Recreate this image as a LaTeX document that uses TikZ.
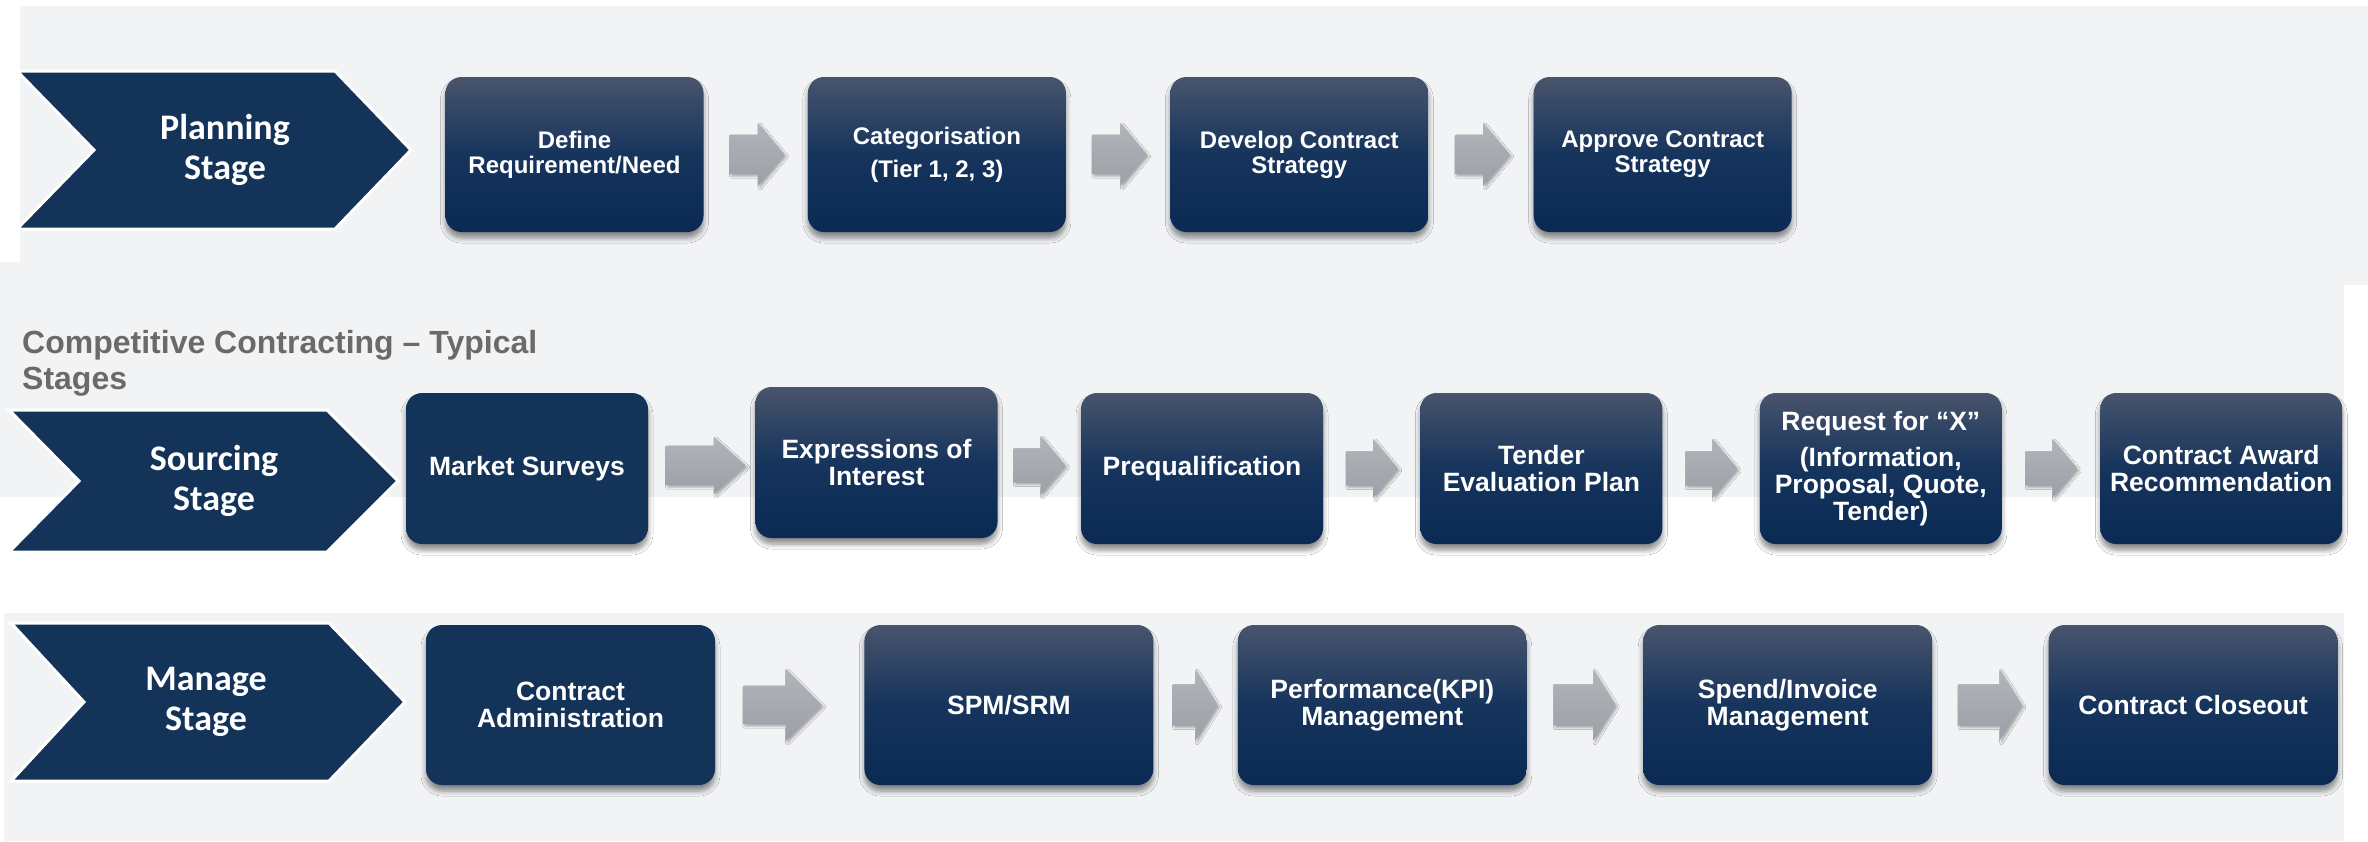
\documentclass[tikz,border=0pt]{standalone}
\usepackage{fontspec}
\setmainfont{Liberation Sans}
\newfontfamily\chevfont{Carlito}
\usepackage{tikz}
\usetikzlibrary{positioning, shapes.arrows, shadows.blur}
\definecolor{cc-navy}{RGB}{20,51,88}
\definecolor{cc-gradtop}{RGB}{72,84,108}
\definecolor{cc-gradmid}{RGB}{22,52,92}
\definecolor{cc-gradbot}{RGB}{10,42,84}
\definecolor{cc-panel}{RGB}{242,243,245}
\definecolor{cc-arrtop}{RGB}{178,180,186}
\definecolor{cc-arrbot}{RGB}{156,159,167}
\definecolor{cc-title}{RGB}{106,106,106}
\tikzset{
  cc@box/.style={
    rounded corners=16pt, top color=cc-gradtop, bottom color=cc-gradbot,
    middle color=cc-gradmid, text=white, align=center, inner sep=4pt,
    blur shadow={shadow blur steps=6, shadow xshift=0pt,
                 shadow yshift=-6pt, shadow blur radius=5pt, shadow opacity=45}
  },
  cc@flat/.style={top color=cc-navy, bottom color=cc-navy, middle color=cc-navy},
  cc@plan/.style={minimum width=258pt, minimum height=155pt,
                  font=\bfseries\fontsize{24}{25}\selectfont},
  cc@source/.style={minimum width=242pt, minimum height=151pt,
                    font=\bfseries\fontsize{26.5}{27}\selectfont},
  cc@manage/.style={minimum width=289pt, minimum height=160pt,
                    font=\bfseries\fontsize{26.5}{27}\selectfont},
  cc@chev/.style={fill=cc-navy, draw=white, line width=3pt},
  cc@chevlbl/.style={text=white, align=center,
                     font=\chevfont\bfseries\fontsize{36}{40}\selectfont},
  cc@title/.style={anchor=north west, inner sep=0pt, align=left, text=cc-title,
                   font=\bfseries\fontsize{32}{36}\selectfont},
  cc@arr/.style={single arrow, inner xsep=0pt, inner ysep=19.5pt, minimum height=55pt,
                 single arrow head extend=12pt, single arrow tip angle=100,
                 xshift=-7pt, top color=cc-arrtop, bottom color=cc-arrbot,
                 blur shadow={shadow xshift=2pt, shadow yshift=-2pt,
                              shadow blur radius=2pt, shadow opacity=30}},
}
\begin{document}
\begin{tikzpicture}[x=1pt, y=-1pt]
  \useasboundingbox (0,0) rectangle (2368,841);
  \fill[white] (0,0) rectangle (2368,841);
  % panels
  \fill[cc-panel] (20,6) rectangle (2368,285);
  \fill[cc-panel] (0,262) rectangle (2344,497);
  \fill[cc-panel] (4,613) rectangle (2344,841);
  % stage chevrons
  \filldraw[cc@chev] (17,71) -- (335,71) -- (411,150) -- (335,229) -- (17,229) -- (94,150) -- cycle;
  \filldraw[cc@chev] (9,410) -- (327,410) -- (398,481) -- (327,552) -- (9,552) -- (79,481) -- cycle;
  \filldraw[cc@chev] (11,623) -- (329,623) -- (405,702) -- (329,781) -- (11,781) -- (84,702) -- cycle;
  \node[cc@chevlbl] (plan)   at (225,150) {Planning\\Stage};
  \node[cc@chevlbl] (source) at (214,481) {Sourcing\\Stage};
  \node[cc@chevlbl] (manage) at (206,702) {Manage\\Stage};
  \node[cc@title] (title) at (22,330) {Competitive Contracting – Typical\\Stages};
  % planning stage
  \node[cc@box, cc@plan] (define) at (574.5,154.5) {Define\\Requirement/Need};
  \node[cc@box, cc@plan, right=104pt of define]  (categ)   {Categorisation\\[8pt](Tier 1, 2, 3)};
  \node[cc@box, cc@plan, right=104pt of categ]   (develop) {Develop Contract\\Strategy};
  \node[cc@box, cc@plan, right=105pt of develop] (approve) {Approve Contract\\Strategy};
  \path (define)  -- node[cc@arr] {} (categ);
  \path (categ)   -- node[cc@arr] {} (develop);
  \path (develop) -- node[cc@arr] {} (approve);
  % sourcing stage
  \node[cc@box, cc@source, cc@flat] (market) at (527,468.5) {Market Surveys};
  \node[cc@box, cc@source] (eoi)     at (876.5,462.5) {Expressions of\\Interest};
  \node[cc@box, cc@source] (prequal) at (1202,468.5)  {Prequalification};
  \node[cc@box, cc@source, right=97pt of prequal] (tender) {Tender\\Evaluation Plan};
  \node[cc@box, cc@source, right=97pt of tender]  (rfx)    {Request for “X”\\[9pt](Information,\\Proposal, Quote,\\Tender)};
  \node[cc@box, cc@source, right=98pt of rfx]     (award)  {Contract Award\\Recommendation};
  \path (market)  -- node[cc@arr, minimum height=80pt, inner ysep=19.5pt,
                          single arrow head extend=9pt, single arrow tip angle=84] {} (eoi);
  \path (eoi)     -- node[cc@arr, minimum height=52pt, inner ysep=17pt, single arrow head extend=12.5pt] {} (prequal);
  \path (prequal) -- node[cc@arr, minimum height=52pt, inner ysep=17pt, single arrow head extend=12.5pt] {} (tender);
  \path (tender)  -- node[cc@arr, minimum height=52pt, inner ysep=17pt, single arrow head extend=12.5pt] {} (rfx);
  \path (rfx)     -- node[cc@arr, minimum height=52pt, inner ysep=17pt, single arrow head extend=12.5pt] {} (award);
  % manage stage
  \node[cc@box, cc@manage, cc@flat] (admin) at (570.5,705) {Contract\\Administration};
  \node[cc@box, cc@manage, right=149pt of admin] (spm)      {SPM/SRM};
  \node[cc@box, cc@manage, right=84pt of spm]    (kpi)      {Performance(KPI)\\Management};
  \node[cc@box, cc@manage, right=116pt of kpi]   (spend)    {Spend/Invoice\\Management};
  \node[cc@box, cc@manage, right=116pt of spend] (closeout) {Contract Closeout};
  \path (admin) -- node[cc@arr, xshift=-10pt, minimum height=79pt, inner ysep=19pt,
                        single arrow head extend=17pt, single arrow tip angle=90] {} (spm);
  \path (spm)   -- node[cc@arr, minimum height=45pt, inner ysep=20.5pt,
                        single arrow head extend=15pt, single arrow tip angle=116] {} (kpi);
  \path (kpi)   -- node[cc@arr, minimum height=62pt, inner ysep=20.5pt,
                        single arrow head extend=15pt, single arrow tip angle=116] {} (spend);
  \path (spend) -- node[cc@arr, minimum height=64pt, inner ysep=20.5pt,
                        single arrow head extend=15pt, single arrow tip angle=116] {} (closeout);
\end{tikzpicture}
\end{document}
